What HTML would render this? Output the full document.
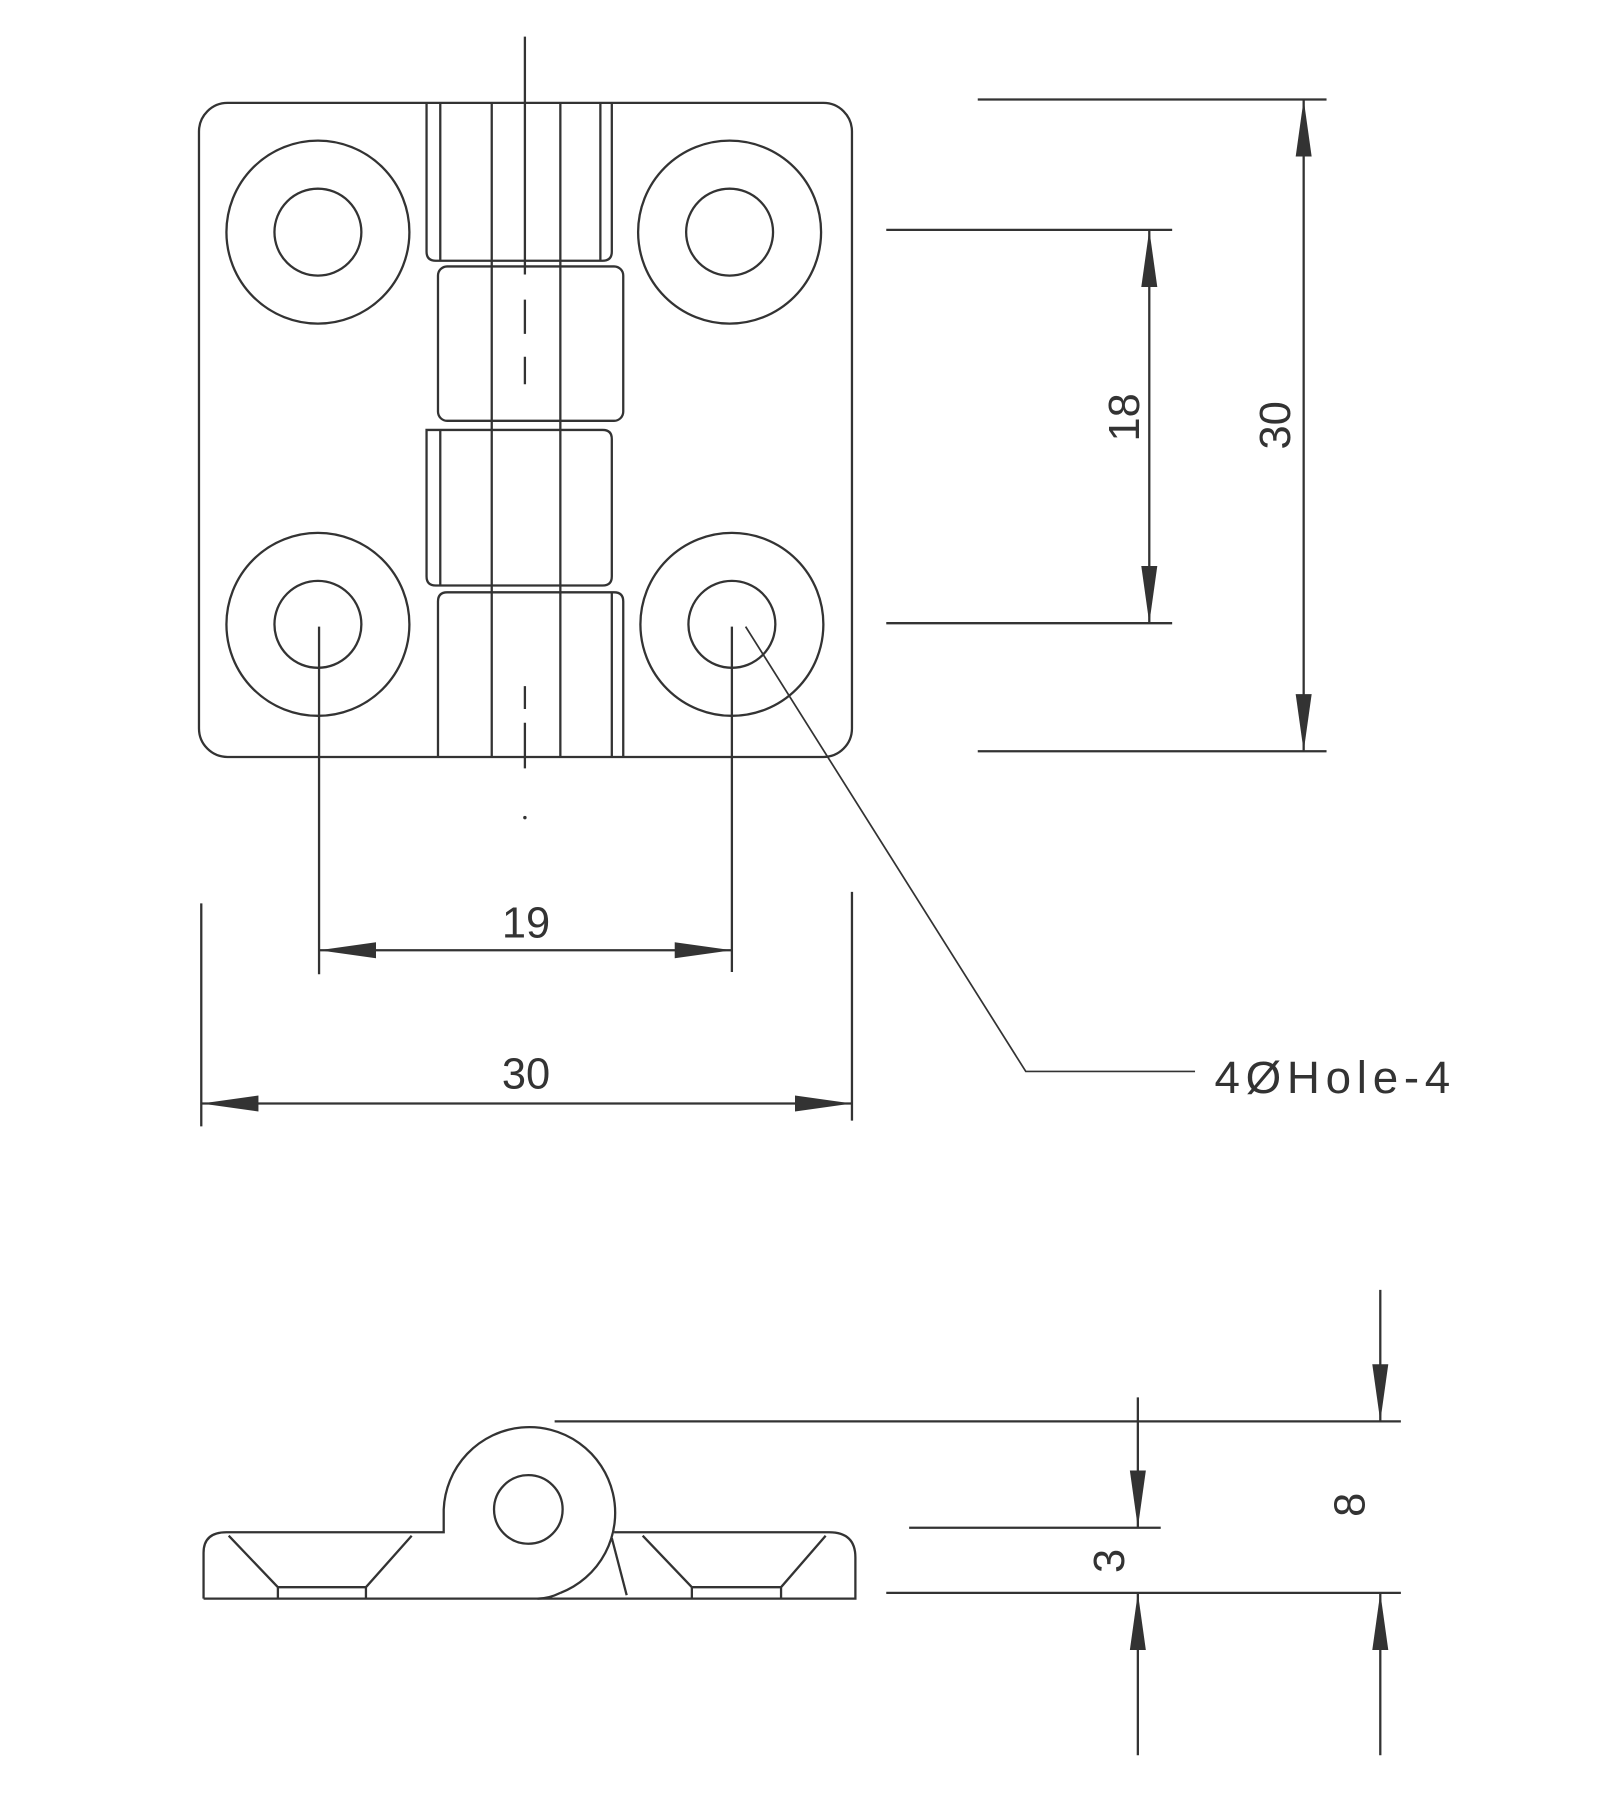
<!DOCTYPE html>
<html><head><meta charset="utf-8"><style>html,body{margin:0;padding:0;background:#fff}svg{display:block}</style></head>
<body>
<svg width="1601" height="1793" viewBox="0 0 1400 1568" preserveAspectRatio="none" xmlns="http://www.w3.org/2000/svg">
<defs>
<marker id="a" viewBox="0 0 50 16" refX="50" refY="8" markerWidth="50" markerHeight="16" markerUnits="userSpaceOnUse" orient="auto"><path d="M0,1 L50,8 L0,15 Z" fill="#333"/></marker>
<marker id="b" viewBox="0 0 50 16" refX="0" refY="8" markerWidth="50" markerHeight="16" markerUnits="userSpaceOnUse" orient="auto"><path d="M50,1 L0,8 L50,15 Z" fill="#333"/></marker>
</defs>
<g fill="none" stroke="#333" stroke-width="2">
<rect x="174" y="90" width="571" height="572" rx="25"/>
<path d="M373,90 V220 Q373,228 381,228 H527 Q535,228 535,220 V90"/>
<path d="M385,90 V228 M525,90 V228"/>
<rect x="383" y="233" width="162" height="135" rx="8"/>
<path d="M373,376 H527 Q535,376 535,384 V504 Q535,512 527,512 H381 Q373,512 373,504 Z"/>
<path d="M385,376 V512"/>
<path d="M383,662 V526 Q383,518 391,518 H537 Q545,518 545,526 V662"/>
<path d="M430,90 V662 M490,90 V662 M535,518 V662"/>
<path d="M459,32 V240 M459,262 V292 M459,312 V336 M459,600 V620 M459,632 V672"/>
<circle cx="278" cy="203" r="80"/><circle cx="278" cy="203" r="38"/>
<circle cx="638" cy="203" r="80"/><circle cx="638" cy="203" r="38"/>
<circle cx="278" cy="546" r="80"/><circle cx="278" cy="546" r="38"/>
<circle cx="640" cy="546" r="80"/><circle cx="640" cy="546" r="38"/>
<path d="M279,548 V852 M640,548 V850"/>
<path d="M279,831 H640" marker-start="url(#b)" marker-end="url(#a)"/>
<path d="M176,790 V985 M745,780 V980"/>
<path d="M176,965 H745" marker-start="url(#b)" marker-end="url(#a)"/>
<path d="M855,87 H1160 M855,657 H1160 M775,201 H1025 M775,545 H1025"/>
<path d="M1140,87 V657" marker-start="url(#b)" marker-end="url(#a)"/>
<path d="M1005,201 V545" marker-start="url(#b)" marker-end="url(#a)"/>
<path d="M652,548 L897,937 H1045" stroke-width="1.5"/>
<path d="M178,1398 V1358 Q178,1340 198,1340 H388 V1320 A75,75 0 1 1 490,1393"/>
<path d="M490,1393 Q480,1398 470,1398 H178"/>
<path d="M537,1340 H725 Q748,1340 748,1362 V1398 H470"/>
<path d="M535,1345 L548,1395"/>
<circle cx="462" cy="1320" r="30"/>
<path d="M200,1343 L243,1388 H320 L360,1343 M243,1388 V1398 M320,1388 V1398"/>
<path d="M562,1343 L605,1388 H683 L722,1343 M605,1388 V1398 M683,1388 V1398"/>
<path d="M485,1243 H1225 M795,1336 H1015 M775,1393 H1225"/>
<path d="M995,1222 V1336" marker-end="url(#a)"/>
<path d="M995,1535 V1393" marker-end="url(#a)"/>
<path d="M1207,1128 V1243" marker-end="url(#a)"/>
<path d="M1207,1535 V1393" marker-end="url(#a)"/>
</g>
<g fill="#333" font-family="Liberation Sans, sans-serif" font-size="38">
<text x="460" y="820" text-anchor="middle">19</text>
<text x="460" y="952" text-anchor="middle">30</text>
<text x="1062" y="956" letter-spacing="5" font-size="40">4ØHole-4</text>
<text transform="translate(1128,372) rotate(-90)" text-anchor="middle">30</text>
<text transform="translate(996,365) rotate(-90)" text-anchor="middle">18</text>
<text transform="translate(983,1365) rotate(-90)" text-anchor="middle">3</text>
<text transform="translate(1193,1316) rotate(-90)" text-anchor="middle">8</text>
</g>
<circle cx="459" cy="715" r="1.5" fill="#333"/>
</svg>
</body></html>
